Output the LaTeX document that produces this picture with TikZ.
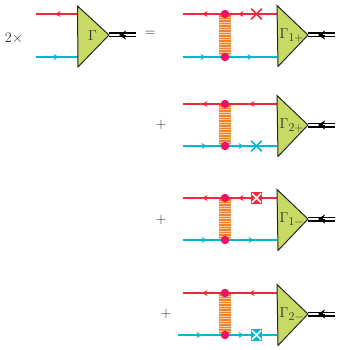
\documentclass[tikz,border=0pt]{standalone}
\usepackage{xcolor}
\usepackage{amsmath}
\usetikzlibrary{arrows.meta,shapes.misc}
\definecolor{quarkred}{RGB}{238,42,58}
\definecolor{quarkcyan}{RGB}{0,184,208}
\definecolor{vertexgreen}{RGB}{200,217,100}
\definecolor{gluondot}{RGB}{238,18,100}
\definecolor{gluonline}{RGB}{243,130,40}
\definecolor{gluonfill}{RGB}{250,205,165}
\newcommand{\vsub}[1]{\mbox{\fontsize{11.5}{12}\selectfont$#1$}}
\tikzset{
  redline/.style={draw=quarkred,line width=1.2pt},
  cyanline/.style={draw=quarkcyan,line width=1.2pt},
  redtip/.style={quarkred,line width=1.2pt,-{Stealth[length=5.5pt,width=6pt]}},
  cyantip/.style={quarkcyan,line width=1.2pt,-{Stealth[length=5.5pt,width=6pt]}},
  vertexbox/.style={draw=black!85,fill=vertexgreen,line width=1pt,line join=miter},
  bethe/.style={draw=black,double=white,double distance=2.6pt,line width=1.2pt},
  bethetip/.style={black,line width=0.6pt,-{Stealth[length=7pt,width=9pt]}},
  gluedot/.style={circle,fill=gluondot,inner sep=0pt,minimum size=8.5pt},
  crossmark/.style={cross out,draw=#1,line width=1.7pt,inner sep=0pt,minimum size=9pt},
  boxmark/.style={rectangle,fill=#1,inner sep=0pt,minimum size=11.5pt},
  whitecross/.style={cross out,draw=white,line width=1.7pt,inner sep=0pt,minimum size=7.5pt},
  lbl/.style={black!80,font=\fontsize{15}{17}\selectfont}
}
\begin{document}
\begin{tikzpicture}[x=1pt,y=-1pt]
  \useasboundingbox (0,0) rectangle (340,350);
  % left-hand side
  \coordinate (la) at (36,14);
  \coordinate (lb) at (36,57);
  \coordinate (lc) at (77.5,14);
  \coordinate (ld) at (77.5,57);
  \coordinate (lend) at (136,35);
  \coordinate (ltip) at (109,35);
  \draw[redline] (la) -- (lc);
  \draw[cyanline] (lb) -- (ld);
  \draw[redtip] (lc) -- (55,14);
  \draw[cyantip] (lb) -- (59,57);
  \draw[bethe] (ltip) -- (lend);
  \draw[bethetip] (126,35) -- (119,35);
  \draw[vertexbox] (77.5,6) -- (78,67) -- (ltip) -- cycle;
  \node[lbl] (gam) at (92.5,35.5) {$\Gamma$};
  \node[lbl] (two) at (14,38.5) {$2\times$};
  \node[lbl] (eq) at (150,34) {$=$};
  % right-hand side: t/b = heights of the lines, m = height of the tip
  \foreach \n/\t/\b/\m/\lab/\rx/\ca/\cx/\st in {1/14/57/35/{\Gamma_{\vsub{1+}}}/238/206/253/183,
      2/104/146/125/{\Gamma_{\vsub{2+}}}/249/207/244/183,
      3/198/240/219/{\Gamma_{\vsub{1-}}}/238/207/254/183,
      4/293/335/314/{\Gamma_{\vsub{2-}}}/249/202/244/178} {
    \coordinate (ra\n) at (183,\t);
    \coordinate (rb\n) at (\st,\b);
    \coordinate (rc\n) at (277,\t);
    \coordinate (rd\n) at (277,\b);
    \coordinate (tip\n) at (308,\m);
    \coordinate (end\n) at (335,\m);
    % gluon rung
    \fill[gluonfill] (219,\t) rectangle (231,\b);
    \foreach \k in {1,...,16}
      \draw[gluonline,line width=1.3pt] (219,\t+\k*2.5-0.5) -- (231,\t+\k*2.5-0.5);
    \draw[redline] (ra\n) -- (rc\n);
    \draw[cyanline] (rb\n) -- (rd\n);
    \draw[redtip] (rc\n) -- (\rx,\t);
    \draw[redtip] (225,\t) -- (202,\t);
    \draw[cyantip] (rb\n) -- (\ca,\b);
    \draw[cyantip] (225,\b) -- (\cx,\b);
    \node[gluedot] (up\n) at (225,\t) {};
    \node[gluedot] (dn\n) at (225,\b) {};
    \draw[bethe] (tip\n) -- (end\n);
    \draw[bethetip] (325,\m) -- (318,\m);
    \draw[vertexbox] (277,\m-29.5) -- (278,\m+31.5) -- (tip\n) -- cycle;
    \node[lbl,anchor=west,inner sep=0pt] (gam\n) at (279.5,\m+0.5) {$\lab$};
  }
  % insertions on the lines
  \node[crossmark=quarkred] (x1) at (256.5,14) {};
  \node[crossmark=quarkcyan] (x2) at (256.5,146) {};
  \node[boxmark=quarkred] (x3) at (256.5,198) {};
  \node[whitecross] (w3) at (x3) {};
  \node[boxmark=quarkcyan] (x4) at (256.5,335) {};
  \node[whitecross] (w4) at (x4) {};
  % plus signs
  \node[lbl] (p2) at (161,125) {$+$};
  \node[lbl] (p3) at (161,220) {$+$};
  \node[lbl] (p4) at (166,314) {$+$};
\end{tikzpicture}
\end{document}
